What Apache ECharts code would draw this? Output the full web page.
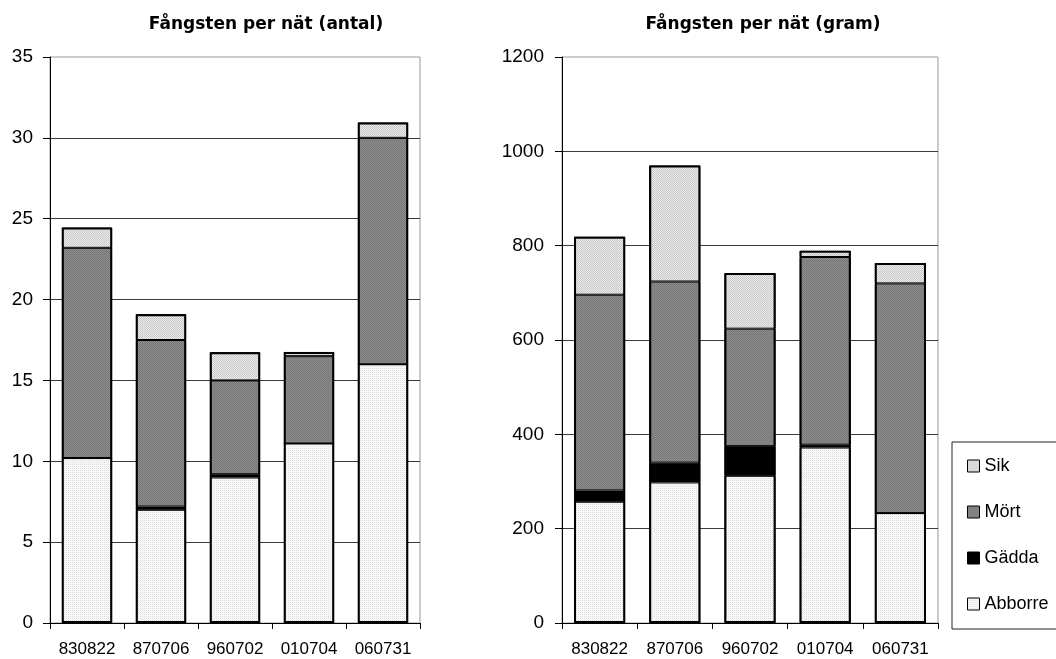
<!DOCTYPE html>
<html>
<head>
<meta charset="utf-8">
<script src="https://cdn.jsdelivr.net/npm/echarts@6/dist/echarts.min.js"></script>
<style>
  html, body { margin: 0; padding: 0; background: #fff; }
  #chart { width: 1056px; height: 659px; }
</style>
</head>
<body>
<div id="chart"></div>
<script>
// Sampling dates (yymmdd)
const categories = ['830822', '870706', '960702', '010704', '060731'];
const speciesOrder = ['Abborre', 'Gädda', 'Mört', 'Sik'];
const legendOrder = ['Sik', 'Mört', 'Gädda', 'Abborre'];

// Catch per net, number of fish
const antalAbborre = [10.2, 7.0, 9.0, 11.1, 16.0];
const antalGadda   = [0, 0.2, 0.2, 0, 0];
const antalMort    = [13.0, 10.3, 5.8, 5.4, 14.0];
const antalSik     = [1.25, 1.6, 1.75, 0.26, 0.95];

// Catch per net, weight in grams
const gramAbborre = [257, 298, 312, 372, 233];
const gramGadda   = [24, 42, 63, 6, 0];
const gramMort    = [415, 384, 249, 398, 487];
const gramSik     = [123, 246, 118, 13, 43];

// Small dithered fills
function pattern(a, b, c, d) {
  const cv = document.createElement('canvas');
  cv.width = 2; cv.height = 2;
  const ctx = cv.getContext('2d');
  [[0, 0, a], [1, 0, b], [0, 1, c], [1, 1, d]].forEach(([x, y, col]) => {
    ctx.fillStyle = col; ctx.fillRect(x, y, 1, 1);
  });
  return { image: cv, repeat: 'repeat' };
}
const fills = {
  'Abborre': pattern('#dedede', '#fbfbfb', '#fbfbfb', '#f4f4f4'),
  'Gädda': '#000000',
  'Mört': pattern('#777777', '#8a8a8a', '#8a8a8a', '#7c7c7c'),
  'Sik': pattern('#c4c4c4', '#ececec', '#ececec', '#cbcbcb')
};

const chartData = [
  { Abborre: antalAbborre, 'Gädda': antalGadda, 'Mört': antalMort, Sik: antalSik },
  { Abborre: gramAbborre, 'Gädda': gramGadda, 'Mört': gramMort, Sik: gramSik }
];

const labelFont = 'Liberation Sans, Arial, sans-serif';

function xAxis(gridIndex) {
  return {
    type: 'category', gridIndex, data: categories,
    axisLine: { lineStyle: { color: '#000', width: 1 } },
    axisTick: { show: true, length: 6, lineStyle: { color: '#000' } },
    axisLabel: { color: '#000', fontSize: 17, fontFamily: labelFont, margin: 18 }
  };
}
function yAxis(gridIndex, max, interval, margin) {
  return {
    type: 'value', gridIndex, min: 0, max, interval,
    axisLine: { show: true, lineStyle: { color: '#000', width: 1 } },
    axisTick: { show: true, length: 7, lineStyle: { color: '#000' } },
    axisLabel: { color: '#000', fontSize: 19, fontFamily: labelFont, margin, formatter: v => String(v) },
    splitLine: { show: true, showMaxLine: false, lineStyle: { color: '#3a3a3a', width: 1 } }
  };
}

const series = [];
chartData.forEach((d, gi) => {
  speciesOrder.forEach(name => {
    series.push({
      name, type: 'bar', stack: 'st' + gi,
      xAxisIndex: gi, yAxisIndex: gi,
      barWidth: '68%',
      data: d[name],
      itemStyle: { color: fills[name], borderColor: '#000', borderWidth: 1 },
      emphasis: { disabled: true },
      animation: false
    });
  });
  // Outline of each whole column, drawn over the stacked segments
  const totals = categories.map((_, i) => speciesOrder.reduce((s, n) => s + d[n][i], 0));
  series.push({
    name: 'Totalt', type: 'bar',
    xAxisIndex: gi, yAxisIndex: gi,
    barWidth: '68%', barGap: '-100%',
    data: totals,
    itemStyle: { color: 'transparent', borderColor: '#000', borderWidth: 2 },
    emphasis: { disabled: true },
    silent: true,
    z: 3,
    animation: false
  });
});

const titleStyle = { fontSize: 17, fontWeight: 'bold', color: '#000', fontFamily: 'DejaVu Sans, sans-serif' };

const chart = echarts.init(document.getElementById('chart'), null, { renderer: 'canvas' });
chart.setOption({
  animation: false,
  backgroundColor: '#fff',
  title: [
    { text: 'Fångsten per nät (antal)', left: 266, top: 16, textAlign: 'center', padding: 0, textStyle: titleStyle },
    { text: 'Fångsten per nät (gram)', left: 763, top: 16, textAlign: 'center', padding: 0, textStyle: titleStyle }
  ],
  grid: [
    { left: 50, top: 57, width: 370, height: 566, show: true, borderColor: '#999', borderWidth: 1, backgroundColor: 'transparent' },
    { left: 562, top: 57, width: 376, height: 566, show: true, borderColor: '#999', borderWidth: 1, backgroundColor: 'transparent' }
  ],
  xAxis: [xAxis(0), xAxis(1)],
  yAxis: [yAxis(0, 35, 5, 17), yAxis(1, 1200, 200, 18)],
  legend: {
    data: legendOrder.map(name => ({ name, icon: 'rect' })),
    orient: 'vertical',
    left: 952, top: 442,
    padding: [15, 10, 16, 15],
    itemWidth: 12, itemHeight: 12, itemGap: 28,
    backgroundColor: '#fff', borderColor: '#222', borderWidth: 1, borderRadius: 0,
    itemStyle: { borderColor: '#000', borderWidth: 1 },
    textStyle: { fontSize: 18, color: '#000', fontFamily: labelFont, lineHeight: 18 },
    selectedMode: false
  },
  series
});
</script>
</body>
</html>
